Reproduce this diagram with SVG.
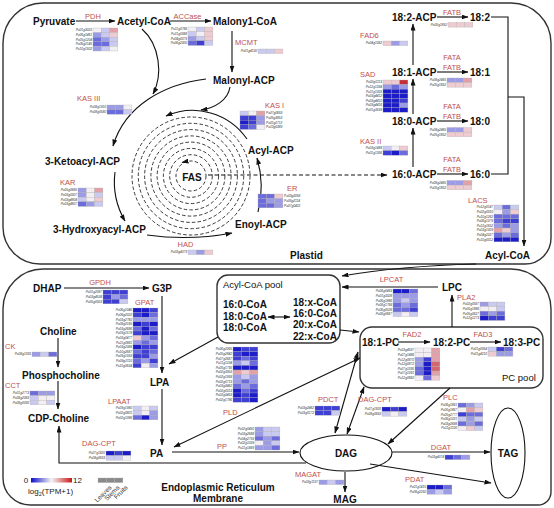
<svg xmlns="http://www.w3.org/2000/svg" width="554" height="508" viewBox="0 0 554 508">
<style>
.m{font-family:"Liberation Sans",Arial,sans-serif;font-weight:bold;font-size:10px;fill:#111}
.mc{text-anchor:middle}
.n{font-family:"Liberation Sans",Arial,sans-serif;font-size:9.5px;fill:#111}
.e{font-family:"Liberation Sans",Arial,sans-serif;font-size:7.5px;fill:#c0504d}
.ec{text-anchor:middle}
.g{font-family:"Liberation Sans",Arial,sans-serif;font-style:italic;font-size:3.2px;fill:#333;text-anchor:end}
.gr{text-anchor:start}
.h rect{width:8.3px;height:4.6px;stroke:#aaa;stroke-width:0.3}
.b5{fill:#1c1cc8}.b4{fill:#3f3fd4}.b3{fill:#6c6cdc}.b2{fill:#9c9ce6}.b1{fill:#cacaf0}.w{fill:#f2eef2}
.r1{fill:#eecbd0}.r2{fill:#e2a0a8}.r3{fill:#d46670}.r4{fill:#c4303a}
.ln{fill:none;stroke:#111;stroke-width:1.1}
.a{marker-end:url(#ah)}
.aa{marker-start:url(#ah);marker-end:url(#ah)}
.dash{stroke-dasharray:4 2.5}
.ring{fill:none;stroke:#222;stroke-width:0.9;stroke-dasharray:3.5 2.2}
.box{fill:none;stroke:#333;stroke-width:1.4}
.lg{font-family:"Liberation Sans",Arial,sans-serif;font-size:8px;fill:#222}
.lt{font-family:"Liberation Sans",Arial,sans-serif;font-size:6.5px;fill:#333;text-anchor:end}
</style>
<defs>
<marker id="ah" markerUnits="userSpaceOnUse" markerWidth="7" markerHeight="5" refX="6.5" refY="2.5" orient="auto-start-reverse" viewBox="0 0 7 5"><path d="M0,0 L7,2.5 L0,5 Z" fill="#111"/></marker>
<linearGradient id="grad" x1="0" x2="1" y1="0" y2="0"><stop offset="0" stop-color="#1010c8"/><stop offset="0.5" stop-color="#f4f4f4"/><stop offset="1" stop-color="#c81818"/></linearGradient>
</defs>
<rect width="554" height="508" fill="#fff"/>

<g id="compartments">
<path id="plastid-box" class="box" d="M43,3 H511 A40,40 0 0 1 551,43 V238 A26,26 0 0 1 525,264 H40 A37,37 0 0 1 3,227 V43 A40,40 0 0 1 43,3 Z"/>
<path id="er-box" class="box" d="M43,269 H511 A40,40 0 0 1 551,309 V492 A13,13 0 0 1 538,505 H30 A27,27 0 0 1 3,478 V309 A40,40 0 0 1 43,269 Z"/>
<rect id="acylcoa-pool-box" x="217" y="275" width="123" height="68" rx="11" class="box"/>
<rect id="pc-pool-box" x="360" y="327" width="183" height="61" rx="12" class="box"/>
<text class="m" x="290" y="259">Plastid</text>
<text class="m mc" x="218" y="490.5">Endoplasmic Reticulum</text>
<text class="m mc" x="218" y="501.5">Membrane</text>
<text class="n" x="223" y="287.5">Acyl-CoA pool</text>
<text class="n" x="502" y="380.5">PC pool</text>
</g>

<g id="fas-rings">
<circle cx="191" cy="176" r="15" class="ring"/>
<circle cx="191" cy="176" r="21.3" class="ring"/>
<circle cx="191" cy="176" r="27.6" class="ring"/>
<circle cx="191" cy="176" r="33.9" class="ring"/>
<circle cx="191" cy="176" r="40.1" class="ring"/>
<circle cx="191" cy="176" r="46.4" class="ring"/>
<circle cx="191" cy="176" r="52.7" class="ring"/>
<circle cx="191" cy="176" r="59" class="ring"/>
</g>

<g id="connectors">
<path class="ln a" d="M76,21 H115"/>
<path class="ln a" d="M170,21 H211"/>
<path class="ln a" d="M232,31 V72"/>
<path class="ln a" d="M142,29 C160,45 163,75 153,94"/>
<path class="ln a" d="M206,79 C165,84 125,105 113,146"/>
<path class="ln a" d="M230,87 C228,100 215,108 201,110"/>
<path class="ln a" d="M247,139 A66,66 0 0 0 166,116"/>
<path class="ln a" d="M115,172 A78,78 0 0 0 125,221"/>
<path class="ln a" d="M147,235 Q190,241 232,233"/>
<path class="ln a" d="M258,212 Q265,185 257,158"/>
<path class="ln a" d="M187,161.3 L182,162.5"/>
<path class="ln a dash" d="M208,175 H387"/>
<path class="ln a" d="M413,167 V128"/>
<path class="ln a" d="M413,114 V79"/>
<path class="ln a" d="M413,65 V24"/>
<path class="ln a" d="M437,17 H468"/>
<path class="ln a" d="M437,72 H468"/>
<path class="ln a" d="M437,121 H468"/>
<path class="ln a" d="M437,174 H468"/>
<path class="ln" d="M491,17 H508 V174 H491"/>
<path class="ln a" d="M508,97 H524 V246"/>
<path class="ln a" d="M476,264 Q400,266 342,276"/>
<path class="ln a" d="M64,288 H149"/>
<path class="ln a" d="M162,296 V373"/>
<path class="ln a" d="M162,389 V445"/>
<path class="ln a" d="M58,338 V367"/>
<path class="ln a" d="M58,381 V409"/>
<path class="ln a" d="M306,463 H59 V426"/>
<path class="ln a" d="M172,452 H299"/>
<path class="ln a" d="M218,337 L169,364"/>
<path class="ln a" d="M438,287 H342"/>
<path class="ln a" d="M340,330 L359,332"/>
<path class="ln a" d="M452,327 V295"/>
<path class="ln a" d="M398,342 H430"/>
<path class="ln a" d="M470,342 H501"/>
<path class="ln aa" d="M360,358 L174,447"/>
<path class="ln aa" d="M358,352 L335,433"/>
<path class="ln aa" d="M364,387 L347,434"/>
<path class="ln a" d="M450,388 L388,444"/>
<path class="ln a" d="M392,452 H490"/>
<path class="ln a" d="M370,464 L491,483"/>
<path class="ln a" d="M345,472 V492"/>
</g>

<g id="metabolites">
<text id="pyruvate" class="m" x="33" y="24.5">Pyruvate</text>
<text id="acetyl-coa" class="m" x="117" y="24.5">Acetyl-CoA</text>
<text id="malonyl-coa" class="m" x="213" y="24.5">Malony1-CoA</text>
<text id="malonyl-acp" class="m" x="213" y="83.5">Malonyl-ACP</text>
<text id="ketoacyl-acp" class="m" x="45" y="164.5">3-Ketoacyl-ACP</text>
<text id="hydroxyacyl-acp" class="m" x="53" y="232.5">3-Hydroxyacyl-ACP</text>
<text id="fas" class="m mc" x="192" y="180.5">FAS</text>
<text id="acyl-acp" class="m" x="248" y="153.5">Acyl-ACP</text>
<text id="enoyl-acp" class="m" x="235" y="227.5">Enoyl-ACP</text>
<text id="acp-18-2" class="m" x="392" y="20.5">18:2-ACP</text>
<text id="acp-18-1" class="m" x="392" y="75.5">18:1-ACP</text>
<text id="acp-18-0" class="m" x="392" y="124.5">18:0-ACP</text>
<text id="acp-16-0" class="m" x="392" y="177.5">16:0-ACP</text>
<text id="fa-18-2" class="m" x="470" y="20.5">18:2</text>
<text id="fa-18-1" class="m" x="470" y="75.5">18:1</text>
<text id="fa-18-0" class="m" x="470" y="124.5">18:0</text>
<text id="fa-16-0" class="m" x="470" y="177.5">16:0</text>
<text id="acyl-coa" class="m" x="485" y="259">Acyl-CoA</text>
<text id="dhap" class="m" x="33" y="291.5">DHAP</text>
<text id="g3p" class="m" x="152" y="291.5">G3P</text>
<text id="choline" class="m" x="40" y="334.5">Choline</text>
<text id="phosphocholine" class="m" x="22" y="378.5">Phosphocholine</text>
<text id="cdp-choline" class="m" x="28" y="421.5">CDP-Choline</text>
<text id="lpa" class="m" x="150" y="385.5">LPA</text>
<text id="pa" class="m" x="150" y="456.5">PA</text>
<g id="pool-species">
<text class="m" x="223" y="307.5">16:0-CoA</text>
<text class="m" x="223" y="319.5">18:0-CoA</text>
<text class="m" x="223" y="330.5">18:0-CoA</text>
<path class="ln aa" d="M268,317 H290" stroke-width="0.9"/>
<text class="m" x="293" y="305.5">18:x-CoA</text>
<text class="m" x="293" y="316.5">16:0-CoA</text>
<text class="m" x="293" y="327.5">20:x-CoA</text>
<text class="m" x="293" y="339.5">22:x-CoA</text>
</g>
<text id="lpc" class="m" x="442" y="290.5">LPC</text>
<text id="pc-18-1" class="m" x="362" y="345.5">18:1-PC</text>
<text id="pc-18-2" class="m" x="433" y="345.5">18:2-PC</text>
<text id="pc-18-3" class="m" x="503" y="345.5">18:3-PC</text>
<g id="dag"><ellipse cx="346" cy="453" rx="46" ry="18" fill="none" stroke="#111" stroke-width="1.1"/><text class="m mc" x="346" y="456.5">DAG</text></g>
<g id="tag"><ellipse cx="508" cy="453" rx="17" ry="45" fill="none" stroke="#111" stroke-width="1.1"/><text class="m mc" x="508" y="456.5">TAG</text></g>
<text id="mag" class="m mc" x="345" y="503">MAG</text>
</g>

<g id="enzymes">
<g id="PDH"><text class="e ec" x="93" y="18.5">PDH</text>
<g class="h" transform="translate(93,28)">
<rect x="0" y="0" class="w"/><rect x="8.3" y="0" class="b1"/><rect x="16.6" y="0" class="r2"/>
<rect x="0" y="4.6" class="b2"/><rect x="8.3" y="4.6" class="b1"/><rect x="16.6" y="4.6" class="r1"/>
<rect x="0" y="9.2" class="b3"/><rect x="8.3" y="9.2" class="b2"/><rect x="16.6" y="9.2" class="b1"/>
<rect x="0" y="13.8" class="b3"/><rect x="8.3" y="13.8" class="b3"/><rect x="16.6" y="13.8" class="b1"/>
<rect x="0" y="18.4" class="b2"/><rect x="8.3" y="18.4" class="b1"/><rect x="16.6" y="18.4" class="w"/>
<text class="g" x="-1" y="3.4">Pa01g3022</text><text class="g" x="-1" y="8">Pa06g1461</text><text class="g" x="-1" y="12.6">Pa05g1204</text><text class="g" x="-1" y="17.2">Pa06g2145</text><text class="g" x="-1" y="21.8">Pa10g1502</text>
</g></g>

<g id="ACCase"><text class="e ec" x="187.5" y="18.5">ACCase</text>
<g class="h" transform="translate(188,27)">
<rect x="0" y="0" class="w"/><rect x="8.3" y="0" class="b1"/><rect x="16.6" y="0" class="r1"/>
<rect x="0" y="4.6" class="b1"/><rect x="8.3" y="4.6" class="w"/><rect x="16.6" y="4.6" class="r1"/>
<rect x="0" y="9.2" class="b2"/><rect x="8.3" y="9.2" class="b1"/><rect x="16.6" y="9.2" class="r1"/>
<rect x="0" y="13.8" class="b3"/><rect x="8.3" y="13.8" class="b4"/><rect x="16.6" y="13.8" class="b1"/>
<text class="g" x="-1" y="3.4">Pa11g0766</text><text class="g" x="-1" y="8">Pa11g0388</text><text class="g" x="-1" y="12.6">Pa04g0379</text><text class="g" x="-1" y="17.2">Pa06g2305</text>
</g></g>

<g id="MCMT"><text class="e" x="235" y="44.5">MCMT</text>
<g class="h" transform="translate(258,49)">
<rect x="0" y="0" class="b1"/><rect x="8.3" y="0" class="b1"/><rect x="16.6" y="0" class="r1"/>
<text class="g" x="-1" y="3.4">Pa01g4130</text>
</g></g>

<g id="KASIII"><text class="e" x="77" y="100.5">KAS  III</text>
<g class="h" transform="translate(107,105)">
<rect x="0" y="0" class="b2"/><rect x="8.3" y="0" class="b2"/><rect x="16.6" y="0" class="w"/>
<rect x="0" y="4.6" class="b3"/><rect x="8.3" y="4.6" class="b3"/><rect x="16.6" y="4.6" class="b1"/>
<text class="g" x="-1" y="3.4">Pa08g1910</text><text class="g" x="-1" y="8">Pa08g0580</text>
</g></g>

<g id="KASI"><text class="e" x="265" y="107.5">KAS I</text>
<g class="h" transform="translate(240,111)">
<rect x="0" y="0" class="b1"/><rect x="8.3" y="0" class="w"/><rect x="16.6" y="0" class="r2"/>
<rect x="0" y="4.6" class="b4"/><rect x="8.3" y="4.6" class="b4"/><rect x="16.6" y="4.6" class="b2"/>
<rect x="0" y="9.2" class="b5"/><rect x="8.3" y="9.2" class="b4"/><rect x="16.6" y="9.2" class="b2"/>
<rect x="0" y="13.8" class="b4"/><rect x="8.3" y="13.8" class="b3"/><rect x="16.6" y="13.8" class="w"/>
<text class="g gr" x="26" y="3.4">Pa07g0659</text><text class="g gr" x="26" y="8">Pa05g3853</text><text class="g gr" x="26" y="12.6">Pa01g2712</text><text class="g gr" x="26" y="17.2">Pa10g0389</text>
</g></g>

<g id="FAD6"><text class="e" x="360" y="37.5">FAD6</text>
<g class="h" transform="translate(383,41)">
<rect x="0" y="0" class="r1"/><rect x="8.3" y="0" class="b2"/><rect x="16.6" y="0" class="b1"/>
<text class="g" x="-1" y="3.4">Pa04g1062</text>
</g></g>

<g id="SAD"><text class="e" x="360" y="76.5">SAD</text>
<g class="h" transform="translate(383,80)">
<rect x="0" y="0" class="r1"/><rect x="8.3" y="0" class="r1"/><rect x="16.6" y="0" class="r4"/>
<rect x="0" y="4.6" class="b2"/><rect x="8.3" y="4.6" class="b3"/><rect x="16.6" y="4.6" class="b2"/>
<rect x="0" y="9.2" class="b5"/><rect x="8.3" y="9.2" class="b5"/><rect x="16.6" y="9.2" class="b5"/>
<rect x="0" y="13.8" class="b5"/><rect x="8.3" y="13.8" class="b5"/><rect x="16.6" y="13.8" class="b5"/>
<rect x="0" y="18.4" class="b5"/><rect x="8.3" y="18.4" class="b5"/><rect x="16.6" y="18.4" class="b4"/>
<rect x="0" y="23" class="b5"/><rect x="8.3" y="23" class="b5"/><rect x="16.6" y="23" class="b2"/>
<rect x="0" y="27.6" class="b5"/><rect x="8.3" y="27.6" class="b5"/><rect x="16.6" y="27.6" class="b5"/>
<text class="g" x="-1" y="3.4">Pa02g0113</text><text class="g" x="-1" y="8">Pa12g1394</text><text class="g" x="-1" y="12.6">Pa11g1933</text><text class="g" x="-1" y="17.2">Pa03g4412</text><text class="g" x="-1" y="21.8">Pa03g4410</text><text class="g" x="-1" y="26.4">Pa03g4416</text><text class="g" x="-1" y="31">Pa01g3599</text>
</g></g>

<g id="FATB-18-2"><text class="e ec" x="452" y="14.5">FATB</text>
<g class="h" transform="translate(448,22.5)">
<rect x="0" y="0" class="r1"/><rect x="8.3" y="0" class="r1"/><rect x="16.6" y="0" class="r1"/>
<text class="g" x="-1" y="3.4">Pa05g1852</text>
</g></g>

<g id="FAT-18-1"><text class="e ec" x="452" y="60">FATA</text><text class="e ec" x="452" y="69.5">FATB</text>
<g class="h" transform="translate(447,78)">
<rect x="0" y="0" class="b2"/><rect x="8.3" y="0" class="b2"/><rect x="16.6" y="0" class="r2"/>
<rect x="0" y="4.6" class="r1"/><rect x="8.3" y="4.6" class="r1"/><rect x="16.6" y="4.6" class="r1"/>
<text class="g" x="-1" y="3.4">Pa08g2465</text><text class="g" x="-1" y="8">Pa05g1852</text>
</g></g>

<g id="FAT-18-0"><text class="e ec" x="452" y="109">FATA</text><text class="e ec" x="452" y="118.5">FATB</text>
<g class="h" transform="translate(447,127.5)">
<rect x="0" y="0" class="b2"/><rect x="8.3" y="0" class="b2"/><rect x="16.6" y="0" class="r1"/>
<rect x="0" y="4.6" class="r1"/><rect x="8.3" y="4.6" class="r1"/><rect x="16.6" y="4.6" class="r1"/>
<text class="g" x="-1" y="3.4">Pa08g2465</text><text class="g" x="-1" y="8">Pa05g1852</text>
</g></g>

<g id="FAT-16-0"><text class="e ec" x="452" y="162">FATA</text><text class="e ec" x="452" y="171.5">FATB</text>
<g class="h" transform="translate(447,180.5)">
<rect x="0" y="0" class="b2"/><rect x="8.3" y="0" class="b2"/><rect x="16.6" y="0" class="r2"/>
<rect x="0" y="4.6" class="r1"/><rect x="8.3" y="4.6" class="r1"/><rect x="16.6" y="4.6" class="r1"/>
<text class="g" x="-1" y="3.4">Pa08g2465</text><text class="g" x="-1" y="8">Pa05g1852</text>
</g></g>

<g id="KASII"><text class="e" x="360" y="143.5">KAS II</text>
<g class="h" transform="translate(383,146)">
<rect x="0" y="0" class="b1"/><rect x="8.3" y="0" class="w"/><rect x="16.6" y="0" class="r1"/>
<rect x="0" y="4.6" class="b4"/><rect x="8.3" y="4.6" class="b5"/><rect x="16.6" y="4.6" class="b3"/>
<text class="g" x="-1" y="3.4">Pa03g1488</text><text class="g" x="-1" y="8">Pa01g1356</text>
</g></g>

<g id="ER"><text class="e" x="287" y="190.5">ER</text>
<g class="h" transform="translate(258,194)">
<rect x="0" y="0" class="b3"/><rect x="8.3" y="0" class="b3"/><rect x="16.6" y="0" class="r1"/>
<rect x="0" y="4.6" class="b3"/><rect x="8.3" y="4.6" class="b2"/><rect x="16.6" y="4.6" class="b2"/>
<rect x="0" y="9.2" class="b3"/><rect x="8.3" y="9.2" class="b3"/><rect x="16.6" y="9.2" class="b2"/>
<text class="g gr" x="26" y="3.4">Pa03g3058</text><text class="g gr" x="26" y="8">Pa05g2114</text><text class="g gr" x="26" y="12.6">Pa07g0422</text>
</g></g>

<g id="KAR"><text class="e" x="60" y="184.5">KAR</text>
<g class="h" transform="translate(78,188)">
<rect x="0" y="0" class="b2"/><rect x="8.3" y="0" class="w"/><rect x="16.6" y="0" class="r2"/>
<rect x="0" y="4.6" class="b2"/><rect x="8.3" y="4.6" class="w"/><rect x="16.6" y="4.6" class="b1"/>
<rect x="0" y="9.2" class="b1"/><rect x="8.3" y="9.2" class="w"/><rect x="16.6" y="9.2" class="r1"/>
<rect x="0" y="13.8" class="b3"/><rect x="8.3" y="13.8" class="b2"/><rect x="16.6" y="13.8" class="b1"/>
<text class="g" x="-1" y="3.4">Pa05g0685</text><text class="g" x="-1" y="8">Pa03g0307</text><text class="g" x="-1" y="12.6">Pa03g4804</text><text class="g" x="-1" y="17.2">Pa03g4807</text>
</g></g>

<g id="HAD"><text class="e ec" x="185.5" y="247">HAD</text>
<g class="h" transform="translate(188,250)">
<rect x="0" y="0" class="b1"/><rect x="8.3" y="0" class="b2"/><rect x="16.6" y="0" class="r1"/>
<text class="g" x="-1" y="3.4">Pa03g4379</text>
</g></g>

<g id="LACS"><text class="e" x="468" y="202.5">LACS</text>
<g class="h" transform="translate(494,205)">
<rect x="0" y="0" class="b1"/><rect x="8.3" y="0" class="b3"/><rect x="16.6" y="0" class="b1"/>
<rect x="0" y="4.6" class="w"/><rect x="8.3" y="4.6" class="b2"/><rect x="16.6" y="4.6" class="r1"/>
<rect x="0" y="9.2" class="b3"/><rect x="8.3" y="9.2" class="b3"/><rect x="16.6" y="9.2" class="b3"/>
<rect x="0" y="13.8" class="b3"/><rect x="8.3" y="13.8" class="b4"/><rect x="16.6" y="13.8" class="b4"/>
<rect x="0" y="18.4" class="b2"/><rect x="8.3" y="18.4" class="b3"/><rect x="16.6" y="18.4" class="b2"/>
<rect x="0" y="23" class="r2"/><rect x="8.3" y="23" class="r1"/><rect x="16.6" y="23" class="b2"/>
<rect x="0" y="27.6" class="b3"/><rect x="8.3" y="27.6" class="b2"/><rect x="16.6" y="27.6" class="b3"/>
<rect x="0" y="32.2" class="b5"/><rect x="8.3" y="32.2" class="b5"/><rect x="16.6" y="32.2" class="b5"/>
<text class="g" x="-1" y="3.4">Pa12g0147</text><text class="g" x="-1" y="8">Pa02g0910</text><text class="g" x="-1" y="12.6">Pa10g1262</text><text class="g" x="-1" y="17.2">Pa06g1379</text><text class="g" x="-1" y="21.8">Pa12g1652</text><text class="g" x="-1" y="26.4">Pa03g1929</text><text class="g" x="-1" y="31">Pa04g2327</text><text class="g" x="-1" y="35.6">Pa10g0312</text>
</g></g>

<g id="GPDH"><text class="e ec" x="100" y="284.5">GPDH</text>
<g class="h" transform="translate(103,290)">
<rect x="0" y="0" class="b4"/><rect x="8.3" y="0" class="b4"/><rect x="16.6" y="0" class="b4"/>
<rect x="0" y="4.6" class="b4"/><rect x="8.3" y="4.6" class="b2"/><rect x="16.6" y="4.6" class="b3"/>
<rect x="0" y="9.2" class="b4"/><rect x="8.3" y="9.2" class="b4"/><rect x="16.6" y="9.2" class="b1"/>
<text class="g" x="-1" y="3.4">Pa01g2087</text><text class="g" x="-1" y="8">Pa03g4538</text><text class="g" x="-1" y="12.6">Pa05g0923</text>
</g></g>

<g id="GPAT"><text class="e" x="135" y="304.5">GPAT</text>
<g class="h" transform="translate(133,308)">
<rect x="0" y="0" class="b5"/><rect x="8.3" y="0" class="b5"/><rect x="16.6" y="0" class="b4"/>
<rect x="0" y="4.6" class="b4"/><rect x="8.3" y="4.6" class="b5"/><rect x="16.6" y="4.6" class="b3"/>
<rect x="0" y="9.2" class="b2"/><rect x="8.3" y="9.2" class="b2"/><rect x="16.6" y="9.2" class="b2"/>
<rect x="0" y="13.8" class="b5"/><rect x="8.3" y="13.8" class="b4"/><rect x="16.6" y="13.8" class="b5"/>
<rect x="0" y="18.4" class="b3"/><rect x="8.3" y="18.4" class="b5"/><rect x="16.6" y="18.4" class="b3"/>
<rect x="0" y="23" class="b4"/><rect x="8.3" y="23" class="b5"/><rect x="16.6" y="23" class="b5"/>
<rect x="0" y="27.6" class="r1"/><rect x="8.3" y="27.6" class="b2"/><rect x="16.6" y="27.6" class="b3"/>
<rect x="0" y="32.2" class="b2"/><rect x="8.3" y="32.2" class="b3"/><rect x="16.6" y="32.2" class="b2"/>
<rect x="0" y="36.8" class="b5"/><rect x="8.3" y="36.8" class="b4"/><rect x="16.6" y="36.8" class="b4"/>
<rect x="0" y="41.4" class="b3"/><rect x="8.3" y="41.4" class="b4"/><rect x="16.6" y="41.4" class="b3"/>
<rect x="0" y="46" class="b4"/><rect x="8.3" y="46" class="b4"/><rect x="16.6" y="46" class="b2"/>
<rect x="0" y="50.6" class="b3"/><rect x="8.3" y="50.6" class="b2"/><rect x="16.6" y="50.6" class="b4"/>
<rect x="0" y="55.2" class="b4"/><rect x="8.3" y="55.2" class="w"/><rect x="16.6" y="55.2" class="b2"/>
<text class="g" x="-1" y="3.4">Pa06g1046</text><text class="g" x="-1" y="8">Pa08g2022</text><text class="g" x="-1" y="12.6">Pa03g2760</text><text class="g" x="-1" y="17.2">Pa08g0185</text><text class="g" x="-1" y="21.8">Pa03g2686</text><text class="g" x="-1" y="26.4">Pa09g1578</text><text class="g" x="-1" y="31">Pa03g0477</text><text class="g" x="-1" y="35.6">Pa11g0881</text><text class="g" x="-1" y="40.2">Pa03g2388</text><text class="g" x="-1" y="44.8">Pa10g2687</text><text class="g" x="-1" y="49.4">Pa09g1933</text><text class="g" x="-1" y="54">Pa09g2110</text><text class="g" x="-1" y="58.6">Pa10g0634</text>
</g></g>

<g id="CK"><text class="e" x="5" y="348.5">CK</text>
<g class="h" transform="translate(32,352)">
<rect x="0" y="0" class="b2"/><rect x="8.3" y="0" class="b1"/><rect x="16.6" y="0" class="b3"/>
<text class="g" x="-1" y="3.4">Pa08g1916</text>
</g></g>

<g id="CCT"><text class="e" x="5" y="387.5">CCT</text>
<g class="h" transform="translate(30,391)">
<rect x="0" y="0" class="b3"/><rect x="8.3" y="0" class="b2"/><rect x="16.6" y="0" class="b2"/>
<rect x="0" y="4.6" class="b1"/><rect x="8.3" y="4.6" class="w"/><rect x="16.6" y="4.6" class="w"/>
<rect x="0" y="9.2" class="b1"/><rect x="8.3" y="9.2" class="w"/><rect x="16.6" y="9.2" class="b1"/>
<text class="g" x="-1" y="3.4">Pa01g2773</text><text class="g" x="-1" y="8">Pa08g2083</text><text class="g" x="-1" y="12.6">Pa08g0090</text>
</g></g>

<g id="LPAAT"><text class="e" x="108" y="403.5">LPAAT</text>
<g class="h" transform="translate(133,406)">
<rect x="0" y="0" class="b1"/><rect x="8.3" y="0" class="w"/><rect x="16.6" y="0" class="b1"/>
<rect x="0" y="4.6" class="b1"/><rect x="8.3" y="4.6" class="w"/><rect x="16.6" y="4.6" class="b2"/>
<rect x="0" y="9.2" class="b3"/><rect x="8.3" y="9.2" class="b5"/><rect x="16.6" y="9.2" class="b2"/>
<text class="g" x="-1" y="3.4">Pa09g1980</text><text class="g" x="-1" y="8">Pa02g0801</text><text class="g" x="-1" y="12.6">Pa02g1086</text>
</g></g>

<g id="DAG-CPT-left"><text class="e" x="82" y="445.5">DAG-CPT</text>
<g class="h" transform="translate(106,451)">
<rect x="0" y="0" class="b5"/><rect x="8.3" y="0" class="b4"/><rect x="16.6" y="0" class="b5"/>
<rect x="0" y="4.6" class="b1"/><rect x="8.3" y="4.6" class="b1"/><rect x="16.6" y="4.6" class="w"/>
<text class="g" x="-1" y="3.4">Pa07g1820</text><text class="g" x="-1" y="8">Pa08g0833</text>
</g></g>

<g id="PLD"><text class="e" x="223" y="414.5">PLD</text>
<g class="h" transform="translate(233,347)">
<rect x="0" y="0" class="b5"/><rect x="8.3" y="0" class="b4"/><rect x="16.6" y="0" class="b4"/>
<rect x="0" y="4.6" class="b4"/><rect x="8.3" y="4.6" class="b5"/><rect x="16.6" y="4.6" class="b5"/>
<rect x="0" y="9.2" class="b4"/><rect x="8.3" y="9.2" class="b3"/><rect x="16.6" y="9.2" class="b4"/>
<rect x="0" y="13.8" class="b2"/><rect x="8.3" y="13.8" class="b1"/><rect x="16.6" y="13.8" class="b3"/>
<rect x="0" y="18.4" class="b5"/><rect x="8.3" y="18.4" class="b5"/><rect x="16.6" y="18.4" class="b5"/>
<rect x="0" y="23" class="r2"/><rect x="8.3" y="23" class="r1"/><rect x="16.6" y="23" class="r2"/>
<rect x="0" y="27.6" class="b2"/><rect x="8.3" y="27.6" class="b1"/><rect x="16.6" y="27.6" class="b2"/>
<rect x="0" y="32.2" class="b2"/><rect x="8.3" y="32.2" class="b3"/><rect x="16.6" y="32.2" class="b2"/>
<rect x="0" y="36.8" class="b3"/><rect x="8.3" y="36.8" class="b2"/><rect x="16.6" y="36.8" class="b3"/>
<rect x="0" y="41.4" class="b5"/><rect x="8.3" y="41.4" class="b3"/><rect x="16.6" y="41.4" class="b4"/>
<rect x="0" y="46" class="b5"/><rect x="8.3" y="46" class="b4"/><rect x="16.6" y="46" class="b5"/>
<rect x="0" y="50.6" class="b4"/><rect x="8.3" y="50.6" class="b4"/><rect x="16.6" y="50.6" class="b5"/>
<text class="g" x="-1" y="3.4">Pa06g2065</text><text class="g" x="-1" y="8">Pa05g2842</text><text class="g" x="-1" y="12.6">Pa07g2687</text><text class="g" x="-1" y="17.2">Pa11g1234</text><text class="g" x="-1" y="21.8">Pa05g1795</text><text class="g" x="-1" y="26.4">Pa02g3953</text><text class="g" x="-1" y="31">Pa02g1958</text><text class="g" x="-1" y="35.6">Pa02g0719</text><text class="g" x="-1" y="40.2">Pa03g3462</text><text class="g" x="-1" y="44.8">Pa02g0313</text><text class="g" x="-1" y="49.4">Pa02g3459</text><text class="g" x="-1" y="54">Pa02g1786</text>
</g></g>

<g id="PP"><text class="e" x="217" y="448.5">PP</text>
<g class="h" transform="translate(255,427)">
<rect x="0" y="0" class="b2"/><rect x="8.3" y="0" class="b1"/><rect x="16.6" y="0" class="b1"/>
<rect x="0" y="4.6" class="b2"/><rect x="8.3" y="4.6" class="b1"/><rect x="16.6" y="4.6" class="b1"/>
<rect x="0" y="9.2" class="b3"/><rect x="8.3" y="9.2" class="b2"/><rect x="16.6" y="9.2" class="b3"/>
<rect x="0" y="13.8" class="w"/><rect x="8.3" y="13.8" class="b2"/><rect x="16.6" y="13.8" class="b1"/>
<rect x="0" y="18.4" class="b2"/><rect x="8.3" y="18.4" class="b2"/><rect x="16.6" y="18.4" class="b3"/>
<text class="g" x="-1" y="3.4">Pa02g0450</text><text class="g" x="-1" y="8">Pa03g2688</text><text class="g" x="-1" y="12.6">Pa04g2759</text><text class="g" x="-1" y="17.2">Pa02g1039</text><text class="g" x="-1" y="21.8">Pa11g1489</text>
</g></g>

<g id="LPCAT"><text class="e ec" x="391.5" y="281.5">LPCAT</text>
<g class="h" transform="translate(393,289)">
<rect x="0" y="0" class="b5"/><rect x="8.3" y="0" class="b5"/><rect x="16.6" y="0" class="b3"/>
<rect x="0" y="4.6" class="b2"/><rect x="8.3" y="4.6" class="b2"/><rect x="16.6" y="4.6" class="b2"/>
<rect x="0" y="9.2" class="b2"/><rect x="8.3" y="9.2" class="b1"/><rect x="16.6" y="9.2" class="b2"/>
<rect x="0" y="13.8" class="b3"/><rect x="8.3" y="13.8" class="b2"/><rect x="16.6" y="13.8" class="b3"/>
<rect x="0" y="18.4" class="b3"/><rect x="8.3" y="18.4" class="b3"/><rect x="16.6" y="18.4" class="b4"/>
<rect x="0" y="23" class="b1"/><rect x="8.3" y="23" class="w"/><rect x="16.6" y="23" class="b1"/>
<text class="g" x="-1" y="3.4">Pa06g0483</text><text class="g" x="-1" y="8">Pa01g3328</text><text class="g" x="-1" y="12.6">Pa06g1866</text><text class="g" x="-1" y="17.2">Pa06g1768</text><text class="g" x="-1" y="21.8">Pa06g0526</text><text class="g" x="-1" y="26.4">Pa06g0667</text>
</g></g>

<g id="PLA2"><text class="e" x="457" y="299.5">PLA2</text>
<g class="h" transform="translate(480,302)">
<rect x="0" y="0" class="b2"/><rect x="8.3" y="0" class="b1"/><rect x="16.6" y="0" class="b1"/>
<rect x="0" y="4.6" class="w"/><rect x="8.3" y="4.6" class="w"/><rect x="16.6" y="4.6" class="b1"/>
<rect x="0" y="9.2" class="b3"/><rect x="8.3" y="9.2" class="b2"/><rect x="16.6" y="9.2" class="b3"/>
<rect x="0" y="13.8" class="b5"/><rect x="8.3" y="13.8" class="b4"/><rect x="16.6" y="13.8" class="b4"/>
<text class="g" x="-1" y="3.4">Pa02g0587</text><text class="g" x="-1" y="8">Pa05g1866</text><text class="g" x="-1" y="12.6">Pa05g0627</text><text class="g" x="-1" y="17.2">Pa12g1273</text>
</g></g>

<g id="FAD2"><text class="e ec" x="412" y="336.5">FAD2</text>
<g class="h" transform="translate(415,348)">
<rect x="0" y="0" class="w"/><rect x="8.3" y="0" class="w"/><rect x="16.6" y="0" class="r2"/>
<rect x="0" y="4.6" class="w"/><rect x="8.3" y="4.6" class="w"/><rect x="16.6" y="4.6" class="r2"/>
<rect x="0" y="9.2" class="b2"/><rect x="8.3" y="9.2" class="b4"/><rect x="16.6" y="9.2" class="r2"/>
<rect x="0" y="13.8" class="b2"/><rect x="8.3" y="13.8" class="b5"/><rect x="16.6" y="13.8" class="r3"/>
<rect x="0" y="18.4" class="b3"/><rect x="8.3" y="18.4" class="b5"/><rect x="16.6" y="18.4" class="r3"/>
<rect x="0" y="23" class="b3"/><rect x="8.3" y="23" class="b5"/><rect x="16.6" y="23" class="r2"/>
<rect x="0" y="27.6" class="w"/><rect x="8.3" y="27.6" class="b3"/><rect x="16.6" y="27.6" class="r1"/>
<text class="g" x="-1" y="3.4">Pa03g4037</text><text class="g" x="-1" y="8">Pa07g1486</text><text class="g" x="-1" y="12.6">Pa12g0870</text><text class="g" x="-1" y="17.2">Pa12g0872</text><text class="g" x="-1" y="21.8">Pa07g1095</text><text class="g" x="-1" y="26.4">Pa07g1091</text><text class="g" x="-1" y="31">Pa12g0882</text>
</g></g>

<g id="FAD3"><text class="e ec" x="483" y="336.5">FAD3</text>
<g class="h" transform="translate(488,347)">
<rect x="0" y="0" class="b1"/><rect x="8.3" y="0" class="b4"/><rect x="16.6" y="0" class="b3"/>
<rect x="0" y="4.6" class="r1"/><rect x="8.3" y="4.6" class="b2"/><rect x="16.6" y="4.6" class="b2"/>
<text class="g" x="-1" y="3.4">Pa01g0954</text><text class="g" x="-1" y="8">Pa01g4210</text>
</g></g>

<g id="PDCT"><text class="e" x="318" y="401.5">PDCT</text>
<g class="h" transform="translate(315,406)">
<rect x="0" y="0" class="b4"/><rect x="8.3" y="0" class="b4"/><rect x="16.6" y="0" class="b4"/>
<rect x="0" y="4.6" class="b4"/><rect x="8.3" y="4.6" class="b4"/><rect x="16.6" y="4.6" class="b1"/>
<text class="g" x="-1" y="3.4">Pa03g2462</text><text class="g" x="-1" y="8">Pa03g0172</text>
</g></g>

<g id="DAG-CPT-right"><text class="e" x="358" y="401.5">DAG-CPT</text>
<g class="h" transform="translate(382,407)">
<rect x="0" y="0" class="b5"/><rect x="8.3" y="0" class="b4"/><rect x="16.6" y="0" class="b5"/>
<rect x="0" y="4.6" class="b1"/><rect x="8.3" y="4.6" class="w"/><rect x="16.6" y="4.6" class="b1"/>
<text class="g" x="-1" y="3.4">Pa07g1820</text><text class="g" x="-1" y="8">Pa08g0833</text>
</g></g>

<g id="PLC"><text class="e" x="443" y="399.5">PLC</text>
<g class="h" transform="translate(458,403)">
<rect x="0" y="0" class="b3"/><rect x="8.3" y="0" class="b2"/><rect x="16.6" y="0" class="b1"/>
<rect x="0" y="4.6" class="w"/><rect x="8.3" y="4.6" class="r2"/><rect x="16.6" y="4.6" class="r1"/>
<rect x="0" y="9.2" class="b4"/><rect x="8.3" y="9.2" class="b3"/><rect x="16.6" y="9.2" class="b3"/>
<rect x="0" y="13.8" class="b1"/><rect x="8.3" y="13.8" class="b2"/><rect x="16.6" y="13.8" class="b1"/>
<rect x="0" y="18.4" class="b3"/><rect x="8.3" y="18.4" class="b2"/><rect x="16.6" y="18.4" class="b3"/>
<rect x="0" y="23" class="w"/><rect x="8.3" y="23" class="r1"/><rect x="16.6" y="23" class="b1"/>
<text class="g" x="-1" y="3.4">Pa06g1861</text><text class="g" x="-1" y="8">Pa05g1867</text><text class="g" x="-1" y="12.6">Pa05g2777</text><text class="g" x="-1" y="17.2">Pa06g1021</text><text class="g" x="-1" y="21.8">Pa03g2688</text><text class="g" x="-1" y="26.4">Pa11g1100</text>
</g></g>

<g id="DGAT"><text class="e ec" x="441" y="449.5">DGAT</text>
<g class="h" transform="translate(445,455)">
<rect x="0" y="0" class="b4"/><rect x="8.3" y="0" class="b3"/><rect x="16.6" y="0" class="b2"/>
<text class="g" x="-1" y="3.4">Pa03g4374</text>
</g></g>

<g id="PDAT"><text class="e" x="405" y="481.5">PDAT</text>
<g class="h" transform="translate(427,485)">
<rect x="0" y="0" class="b5"/><rect x="8.3" y="0" class="b5"/><rect x="16.6" y="0" class="b3"/>
<rect x="0" y="4.6" class="b2"/><rect x="8.3" y="4.6" class="b1"/><rect x="16.6" y="4.6" class="b2"/>
<text class="g" x="-1" y="3.4">Pa01g1415</text><text class="g" x="-1" y="8">Pa06g2250</text>
</g></g>

<g id="MAGAT"><text class="e" x="295" y="476.5">MAGAT</text>
<g class="h" transform="translate(319,480)">
<rect x="0" y="0" class="b2"/><rect x="8.3" y="0" class="b1"/><rect x="16.6" y="0" class="b2"/>
<text class="g" x="-1" y="3.4">Pa03g1197</text>
</g></g>
</g>

<g id="legend">
<rect x="31" y="478" width="41" height="4.5" fill="url(#grad)"/>
<text class="lg" x="26" y="483" text-anchor="middle">0</text>
<text class="lg" x="73" y="483">12</text>
<text class="lg" x="28" y="494">log<tspan font-size="5.5px" dy="2">2</tspan><tspan dy="-2">(TPM+1)</tspan></text>
<g class="h">
<rect x="98" y="478" fill="#8a8a8a"/><rect x="106.3" y="478" fill="#8a8a8a"/><rect x="114.6" y="478" fill="#8a8a8a"/>
</g>
<text class="lt" transform="translate(112,488) rotate(-45)">Leaves</text>
<text class="lt" transform="translate(120,488) rotate(-45)">Stems</text>
<text class="lt" transform="translate(128,488) rotate(-45)">Fruits</text>
</g>
</svg>
